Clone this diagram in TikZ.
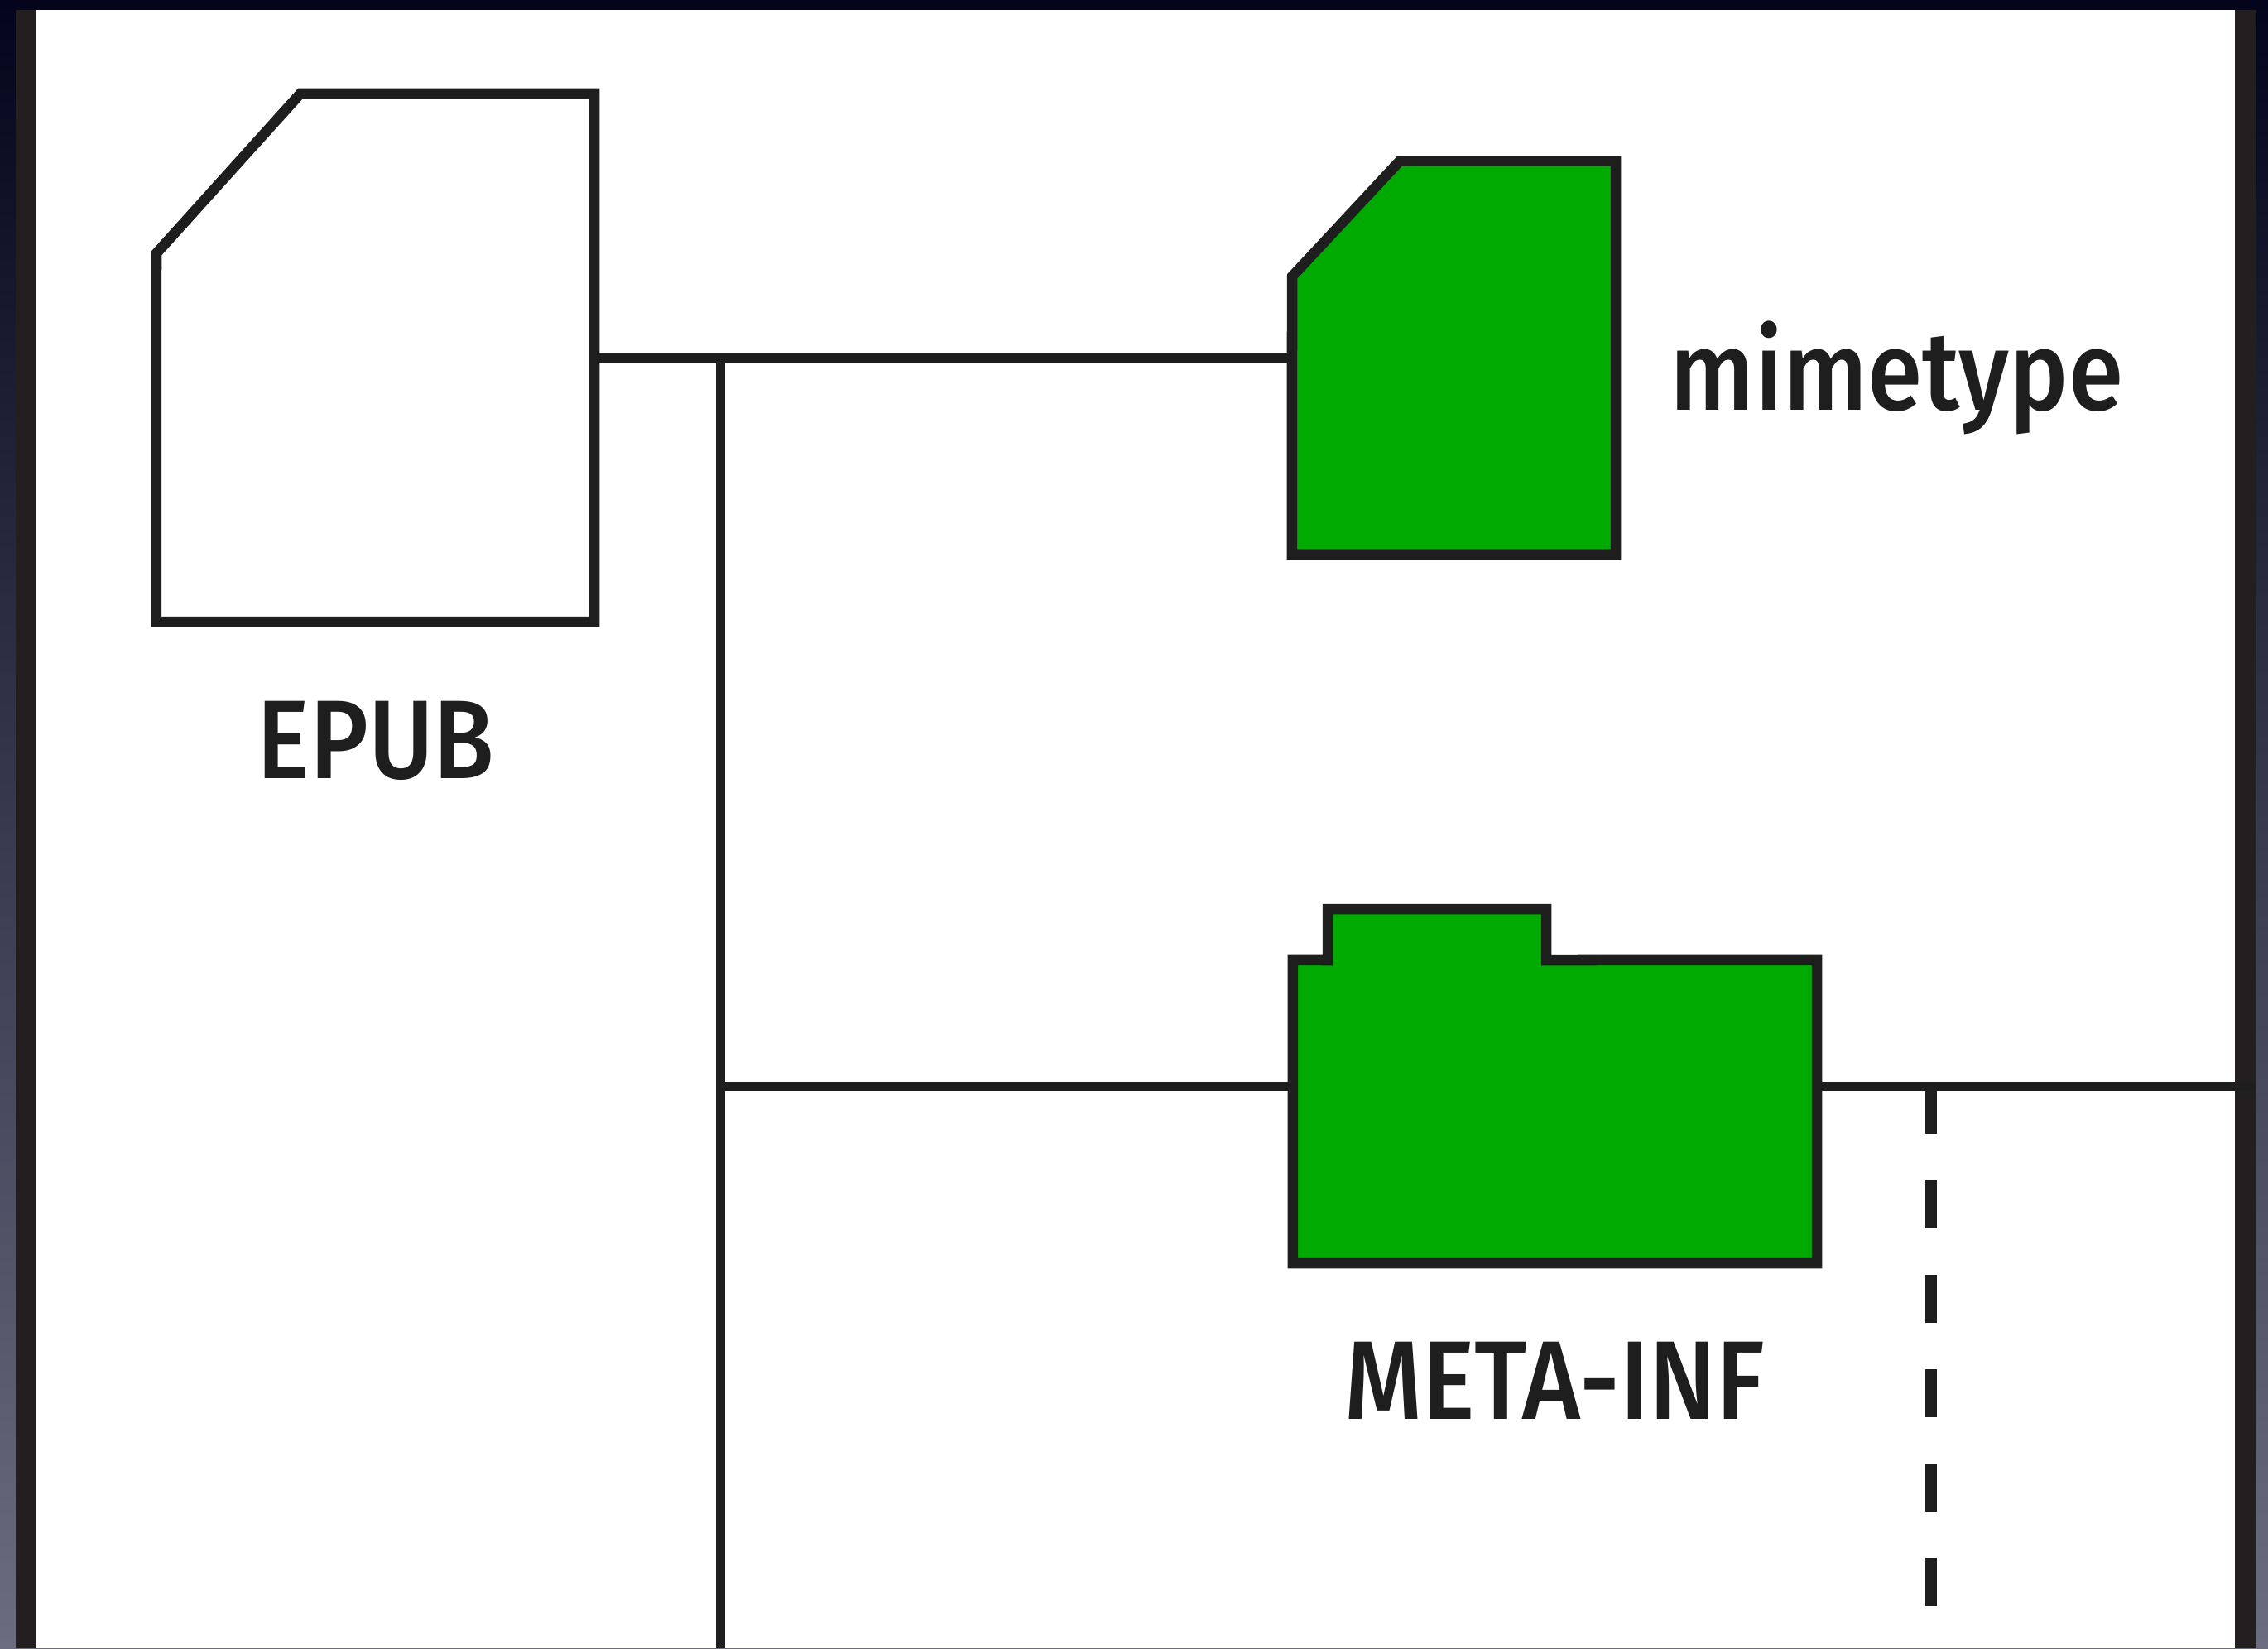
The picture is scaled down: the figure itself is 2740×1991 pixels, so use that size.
\documentclass[tikz,border=0pt]{standalone}
\usepackage{fontspec}
\setmainfont{Fira Sans Medium}
\definecolor{ink}{HTML}{1E1E1E}
\definecolor{barink}{HTML}{231F20}
\definecolor{leaf}{HTML}{00AA00}
\definecolor{skytop}{HTML}{04041C}
\definecolor{skymid}{HTML}{38385A}
\definecolor{skylow}{HTML}{6C6C80}
\tikzset{
  wire/.style={draw=ink,line width=0.11cm},
  dashwire/.style={draw=ink,line width=0.14cm,dash pattern=on 0.58cm off 0.56cm},
  outline/.style={draw=ink,line width=0.125cm,line join=miter},
  bodybox/.style={rectangle,inner sep=0pt,outer sep=0pt},
  label/.style={text=ink,anchor=base,inner sep=0pt,font=\fontsize{38.4}{40}\selectfont}
}
\newcommand{\condensed}[1]{\scalebox{0.89}[1]{#1}}
\begin{document}
\begin{tikzpicture}[x=0.01cm,y=-0.01cm]
\useasboundingbox (0,0) rectangle (2740,1991);
\shade[top color=skytop,middle color=skymid,bottom color=skylow] (0,0) rectangle (2740,1991);
\fill[white] (19,12) rectangle (2726,1991);
\fill[barink] (19,12) rectangle (44,1991);
\fill[barink] (2700,12) rectangle (2726,1991);

\node[bodybox,minimum width=5.29cm,minimum height=6.38cm] (epub) at (453.5,432) {};
\node[bodybox,minimum width=3.91cm,minimum height=4.75cm] (mimetype) at (1756.5,432) {};
\node[bodybox,minimum width=6.33cm,minimum height=3.66cm] (metainf) at (1878.5,1343) {};

\draw[outline,fill=white]
  (epub.south west) -- (189,306) -- (363,113) -- (epub.north east) -- (epub.south east) -- cycle;
\draw[outline,fill=leaf]
  (mimetype.south west) -- (1561,334) -- (1691,194.5) -- (mimetype.north east) -- (mimetype.south east) -- cycle;
\draw[outline,fill=leaf]
  (metainf.south west) -- (metainf.north west) -- (1604,1160) -- (1604,1098) -- (1868,1098) -- (1868,1160) -- (metainf.north east) -- (metainf.south east) -- cycle;

\coordinate (busTop) at (870,432);
\coordinate (busMid) at (870,1312);
\coordinate (busEnd) at (870,1991);
\coordinate (metaL) at (1562,1312);
\coordinate (metaR) at (2195,1312);
\coordinate (rightEnd) at (2726,1312);
\coordinate (dashTop) at (2333,1312);
\coordinate (dashEnd) at (2333,1944);

\draw[wire] (epub.east) -- (mimetype.west);
\draw[wire] (busTop) -- (busEnd);
\draw[wire] (busMid) -- (metaL);
\draw[wire] (metaR) -- (rightEnd);
\draw[dashwire] (dashTop) -- (dashEnd);

\node[label] (epubtext) at (454,940) {\condensed{EPUB}};
\node[label] (mimetext) at (2291.5,495) {\condensed{mimetype}};
\node[label] (metatext) at (1878,1714) {\condensed{META-INF}};
\end{tikzpicture}
\end{document}
